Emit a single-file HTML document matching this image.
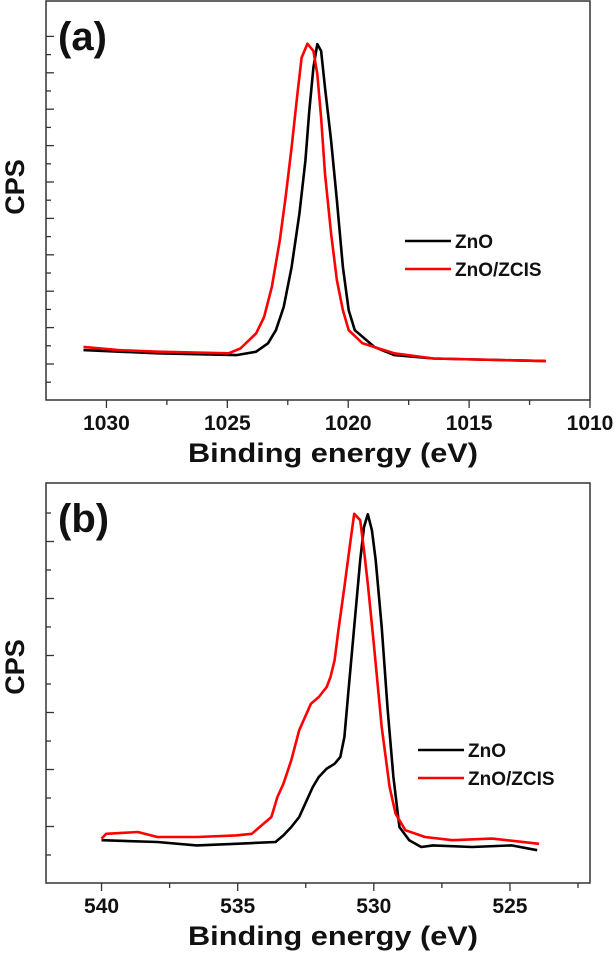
<!DOCTYPE html>
<html><head><meta charset="utf-8"><style>
html,body{margin:0;padding:0;background:#fff;}
svg{display:block;font-family:"Liberation Sans",Arial,sans-serif;font-weight:bold;}
</style></head><body>
<svg id="chart" width="616" height="957" viewBox="0 0 616 957" xmlns="http://www.w3.org/2000/svg"></svg>
<script>
// Panel (a): Zn 2p
const aZnOEnergy=[1030.95,1027.88,1024.62,1023.81,1023.32,1022.99,1022.67,1022.34,1022.02,1021.77,1021.61,1021.44,1021.28,1021.12,1020.96,1020.71,1020.47,1020.22,1019.98,1019.73,1018.92,1018.10,1016.47,1011.83];
const aZnOCps=[12.5,11.7,11.25,12.1,14.2,17.5,23.3,33.3,46.7,60,72.5,83.3,89.2,87.5,78.3,65,50,33.3,22.5,17.5,13.3,11.25,10.4,9.75];
const aZcisEnergy=[1030.95,1029.51,1027.88,1024.95,1024.46,1023.81,1023.48,1023.16,1022.83,1022.59,1022.34,1022.10,1021.93,1021.69,1021.44,1021.28,1021.12,1020.96,1020.71,1020.47,1020.22,1019.98,1019.41,1018.10,1016.47,1011.83];
const aZcisCps=[13.3,12.5,12.1,11.7,12.9,16.7,20.8,28.3,40,50.8,63.3,76.7,85.8,89.3,87.5,81.7,70.8,56.7,41.7,30,22.5,17.5,14.2,11.7,10.4,9.75];
const aTicks=[1030,1025,1020,1015,1010];
// Panel (b): O 1s
const bZnOEnergy=[540.00,537.95,536.50,535.06,533.61,533.32,533.03,532.74,532.46,532.24,532.02,531.73,531.44,531.23,531.08,530.94,530.72,530.50,530.36,530.22,530.07,529.93,529.71,529.49,529.28,529.06,528.70,528.26,527.83,526.39,524.94,524.00];
const bZnOCps=[10.7,10.25,9.4,9.8,10.25,11.9,14,16.5,20.7,24,26.5,28.6,29.8,31.5,36.5,47.3,64,80.7,89,92.2,88.2,80.7,64,43.2,26.5,14,10.7,9,9.4,9,9.4,8.2];
const bZcisEnergy=[540.00,539.83,538.67,537.95,536.50,535.06,534.48,534.19,533.76,533.54,533.32,533.03,532.74,532.31,532.02,531.73,531.59,531.44,531.30,531.08,530.87,530.72,530.50,530.36,530.22,530.00,529.71,529.42,529.20,528.84,528.12,527.11,525.66,523.93];
const bZcisCps=[11.1,12.3,12.75,11.5,11.5,11.9,12.3,14,16.5,21.5,24.8,30.7,38.2,44.8,46.5,49,51.5,55.7,63.2,74,84.8,92.3,90.7,83.2,74.8,59.8,39,24,17.3,13.2,11.5,10.7,11.1,9.8];
const bTicks=[540,535,530,525];

const NS="http://www.w3.org/2000/svg";
const svg=document.getElementById('chart');
function mk(tag,attrs,parent){const e=document.createElementNS(NS,tag);for(const k in attrs)e.setAttribute(k,attrs[k]);(parent||svg).appendChild(e);return e;}

function panel(cfg){
  const g=mk('g',{});
  
  
  const L=46,R=590,T=cfg.top,B=cfg.bottom;
  const x=e=>L+(cfg.xMax-e)/(cfg.xMax-cfg.xMin)*(R-L);
  const y=v=>B-v/100*(B-T);
  const frame=mk('rect',{x:L,y:T,width:R-L,height:B-T,fill:'none',stroke:'#333',"stroke-width":1.5},g);
  
  
  // x ticks
  for(let e=cfg.xTickStart;e>=cfg.xMin-0.001;e-=2.5){
    const major=Math.abs(e/5-Math.round(e/5))<0.01;
    const t=mk('line',{x1:x(e),x2:x(e),y1:B,y2:B+(major?8:5),stroke:'#333',"stroke-width":1.3},g);
    
    
  }
  cfg.ticks.forEach(v=>{
    const t=mk('text',{x:x(v),y:B+30,"text-anchor":"middle","font-size":21,fill:'#111'},g);
    t.textContent=v;
    
    
  });
  // y ticks
  cfg.yTicks.forEach((py,i)=>{
    const t=mk('line',{x1:L,x2:L+(cfg.yMajor(i)?8:5),y1:py,y2:py,stroke:'#333',"stroke-width":1.3},g);
    
    
  });
  const xt=mk('text',{x:333,y:B+62,"text-anchor":"middle","font-size":27,fill:'#111',textLength:290,lengthAdjust:'spacingAndGlyphs'},g);
  xt.textContent='Binding energy (eV)';
  
  
  const yt=mk('text',{x:0,y:0,"text-anchor":"middle","font-size":27,fill:'#111',transform:`translate(24,${cfg.cpsY}) rotate(-90)`},g);
  yt.textContent='CPS';
  
  
  const pl=mk('text',{x:58,y:T+49,"font-size":40,fill:'#111'},g);
  pl.textContent=cfg.label;
  
  
  function series(E,V,color,name){
    const d=E.map((e,i)=>(i?'L':'M')+x(e).toFixed(1)+','+y(V[i]).toFixed(1)).join(' ');
    const p=mk('path',{d:d,fill:'none',stroke:color,"stroke-width":2.6,"stroke-linejoin":"round"},g);
    
    
  }
  series(cfg.e1,cfg.v1,'#000','zno-line');
  series(cfg.e2,cfg.v2,'#ff0000','zno-zcis-line');
  // legend
  const lg=mk('g',{},g);
  
  
  [['ZnO','#000',cfg.legY],['ZnO/ZCIS','#ff0000',cfg.legY+28]].forEach(([t,c,ly])=>{
    const ln=mk('line',{x1:cfg.legX,x2:cfg.legX+46,y1:ly,y2:ly,stroke:c,"stroke-width":2.6},lg);
    
    
    const tx=mk('text',{x:cfg.legX+50,y:ly+7,"font-size":19,fill:'#111'},lg);
    tx.textContent=t;
    
    
  });
}
const aYT=[];for(let i=0;i<20;i++)aYT.push(364+18.2-18.2*i);
panel({name:'panel-a',top:1,bottom:400,xMax:1032.5,xMin:1010,xTickStart:1030,ticks:aTicks,
  yTicks:aYT.filter(p=>p>5&&p<398),yMajor:i=>i%2===1,cpsY:187,label:'(a)',
  e1:aZnOEnergy,v1:aZnOCps,e2:aZcisEnergy,v2:aZcisCps,legX:405,legY:241});
const bYT=[];for(let i=0;i<14;i++)bYT.push(855-28.5*i);
panel({name:'panel-b',top:483,bottom:883,xMax:542.04,xMin:522.06,xTickStart:540,ticks:bTicks,
  yTicks:bYT.filter(p=>p>487&&p<880),yMajor:i=>i%2===1,cpsY:667,label:'(b)',
  e1:bZnOEnergy,v1:bZnOCps,e2:bZcisEnergy,v2:bZcisCps,legX:418,legY:750});
</script>
</body></html>
